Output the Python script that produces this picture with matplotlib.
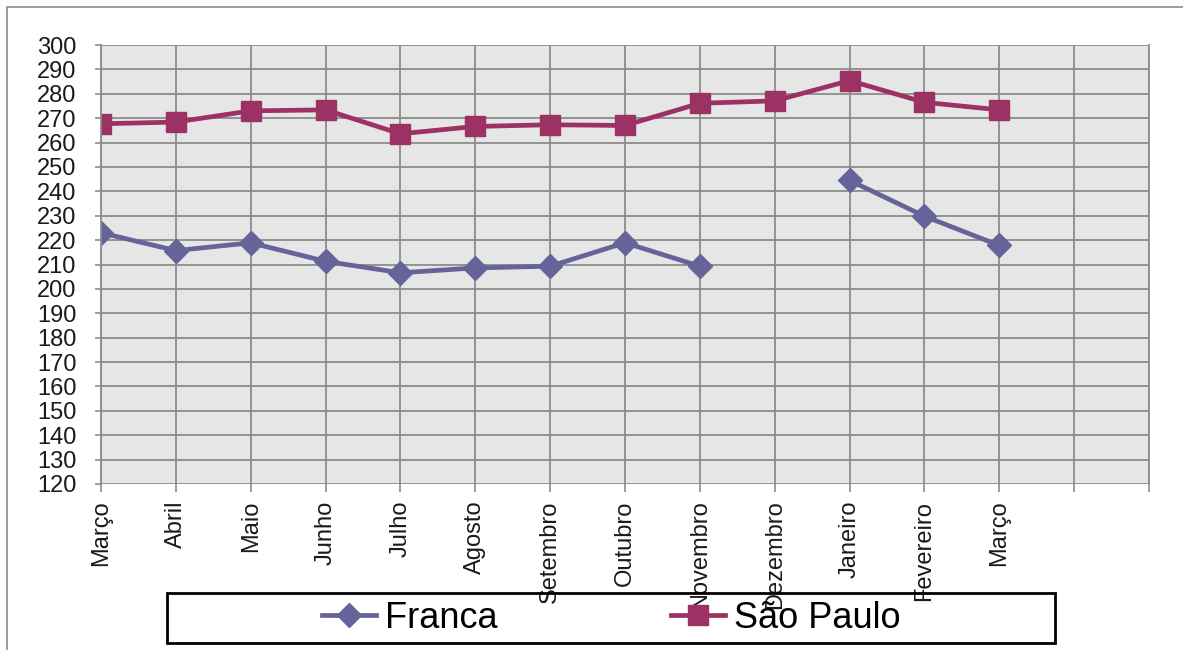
import matplotlib.pyplot as plt
import matplotlib.patches as mpatches
import numpy as np

# ============================================================
# DATA
# ============================================================
meses = ["Março", "Abril", "Maio", "Junho", "Julho", "Agosto", "Setembro",
         "Outubro", "Novembro", "Dezembro", "Janeiro", "Fevereiro", "Março", "", ""]

franca = [223, 215.7, 218.9, 211.3, 206.6, 208.6, 209.3, 218.9, 209.3,
          np.nan, 244.5, 229.8, 217.8]
sao_paulo = [267.7, 268.4, 273, 273.4, 263.6, 266.6, 267.3, 267, 276.1,
             277.1, 285.4, 276.5, 273.4]

# ============================================================
# PLOT CONFIGURATION
# ============================================================
plt.rcParams['font.family'] = ['Liberation Sans', 'DejaVu Sans']

W, H = 1183, 650
fig = plt.figure(figsize=(W / 100, H / 100), dpi=100)

# outer chart border
fig.add_artist(mpatches.Rectangle((7 / W, -0.1), 1.2, (H - 7) / H + 0.1,
                                  transform=fig.transFigure, fill=False,
                                  edgecolor='#8c8c8c', linewidth=1.2))

ax = fig.add_axes([101 / W, (H - 484) / H, (1149 - 101) / W, (484 - 45) / H])
ax.set_facecolor('#e6e6e6')

x = np.arange(len(meses))
ax.plot(x[:len(franca)], franca, color='#64649a', linewidth=3.4,
        marker='D', markersize=12, label='Franca')
ax.plot(x[:len(sao_paulo)], sao_paulo, color='#9b3263', linewidth=3.4,
        marker='s', markersize=14, label='São Paulo')

ax.set_xlim(0, len(meses) - 1)
ax.set_ylim(120, 300)
ax.set_yticks(np.arange(120, 301, 10))
ax.set_xticks(x)
ax.set_xticklabels(meses, rotation=90, fontsize=17)
ax.tick_params(axis='y', labelsize=17, length=4.5, width=1.2, color='#8c8c8c',
               pad=13, labelcolor='#1a1a1a')
ax.tick_params(axis='x', length=6, width=1.2, color='#8c8c8c', pad=6,
               labelcolor='#1a1a1a')

ax.grid(True, color='#8c8c8c', linewidth=1.3)
ax.set_axisbelow(True)
for s in ['top', 'bottom']:
    ax.spines[s].set_visible(False)
for s in ['left', 'right']:
    ax.spines[s].set_color('#8c8c8c')
    ax.spines[s].set_linewidth(1.3)

# ============================================================
# LEGEND
# ============================================================
fig.add_artist(mpatches.Rectangle((167 / W, (H - 643) / H), (1055 - 167) / W, 50 / H,
                                  transform=fig.transFigure, fill=False,
                                  edgecolor='black', linewidth=2))
fig.legend(loc='center', bbox_to_anchor=(611 / W, (H - 618) / H), ncol=2,
           frameon=False, handlelength=1.5, columnspacing=4.8,
           handletextpad=0.25, borderpad=0,
           prop={'family': ['Liberation Sans Narrow', 'Liberation Sans'], 'size': 26})

fig.savefig('out.png', dpi=100)
